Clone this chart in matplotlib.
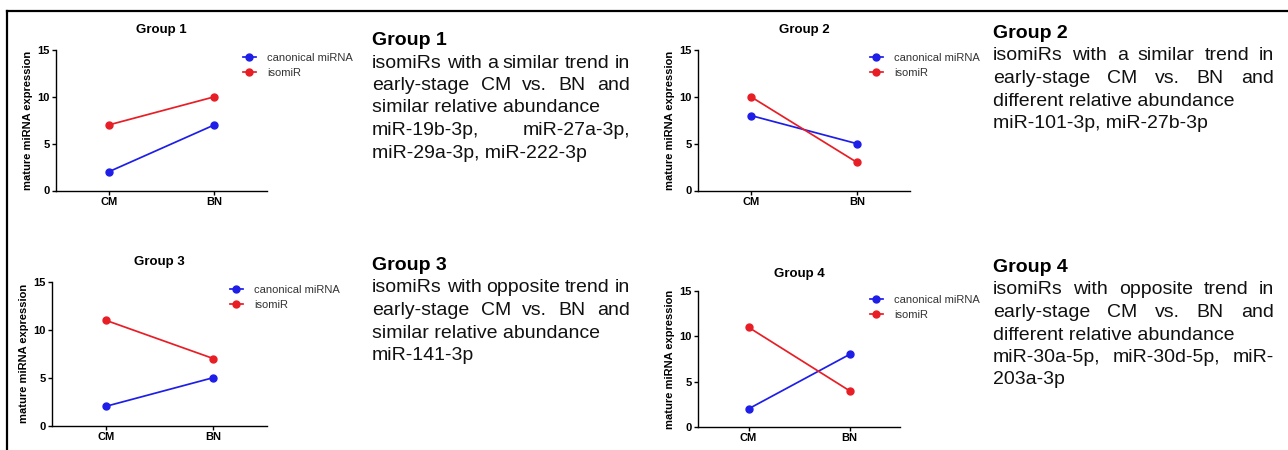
import matplotlib
matplotlib.use("Agg")
import matplotlib.pyplot as plt
from matplotlib.lines import Line2D

plt.rcParams['font.family'] = ['Liberation Sans', 'DejaVu Sans']

# ---- data ----
categories = ['CM', 'BN']
series_names = ['canonical miRNA', 'isomiR']
group_titles = ['Group 1', 'Group 2', 'Group 3', 'Group 4']
canonical = [[2, 7], [8, 5], [2, 5], [2, 8]]
isomir = [[7, 10], [10, 3], [11, 7], [11, 4]]
y_ticks = [0, 5, 10, 15]
y_label = 'mature miRNA expression'

descriptions = [
    ["isomiRs with a similar trend in", "early-stage CM vs. BN and",
     "similar relative abundance", "miR-19b-3p, miR-27a-3p,",
     "miR-29a-3p, miR-222-3p"],
    ["isomiRs with a similar trend in", "early-stage CM vs. BN and",
     "different relative abundance", "miR-101-3p, miR-27b-3p"],
    ["isomiRs with opposite trend in", "early-stage CM vs. BN and",
     "similar relative abundance", "miR-141-3p"],
    ["isomiRs with opposite trend in", "early-stage CM vs. BN and",
     "different relative abundance", "miR-30a-5p, miR-30d-5p, miR-",
     "203a-3p"],
]
justified = [
    [True, True, False, True, False],
    [True, True, False, False],
    [True, True, False, False],
    [True, True, False, True, False],
]

W, H = 1288, 450
fig = plt.figure(figsize=(W / 100, H / 100), dpi=100)


def fx(x):
    return x / W


def fy(y):
    return 1 - y / H


BLUE = '#1e1ee8'
RED = '#e81e26'

# axes boxes in pixels: left, right, top, bottom
boxes = [(56, 267, 50, 190.5), (698, 910, 50, 190.5),
         (52, 267, 282, 425.5), (698, 900, 291, 427)]
title_pads = [12, 12, 12, 10]
legend_anchor = [(243, 53), (870, 53), (230, 285), (870, 295)]

for i, (l, r, t, b) in enumerate(boxes):
    ax = fig.add_axes([fx(l), fy(b), (r - l) / W, (b - t) / H])
    xs = list(range(len(categories)))
    ax.plot(xs, canonical[i], color=BLUE, lw=1.25, marker='o', ms=5,
            label=series_names[0])
    ax.plot(xs, isomir[i], color=RED, lw=1.25, marker='o', ms=5,
            label=series_names[1])
    ax.set_xlim(-0.5, 1.5)
    ax.set_ylim(0, 15)
    ax.set_xticks(xs)
    ax.set_xticklabels(categories, fontsize=8, fontweight='bold')
    ax.set_yticks(y_ticks)
    ax.set_yticklabels([str(v) for v in y_ticks], fontsize=8,
                       fontweight='bold')
    ax.tick_params(length=3, width=1, pad=1.5)
    for s in ('top', 'right'):
        ax.spines[s].set_visible(False)
    for s in ('left', 'bottom'):
        ax.spines[s].set_linewidth(1.0)
    ax.set_ylabel(y_label, fontsize=8, fontweight='bold', labelpad=3)
    ax.set_title(group_titles[i], fontsize=9.5, fontweight='bold',
                 pad=title_pads[i])
    lx, ly = legend_anchor[i]
    leg = ax.legend(loc='upper left', bbox_to_anchor=(fx(lx), fy(ly)),
                    bbox_transform=fig.transFigure, frameon=False,
                    fontsize=8, borderpad=0, borderaxespad=0,
                    handlelength=1.15, handletextpad=1.0, labelspacing=0.45)
    for txt in leg.get_texts():
        txt.set_color('#333333')

# ---- description blocks ----
renderer = fig.canvas.get_renderer()
blocks = [(372, 630, 45), (993, 1274, 38), (372, 630, 270), (993, 1274, 272)]
line_step = 22.5
FS = 14


def word_width(word):
    t = fig.text(0, 0, word, fontsize=FS)
    w = t.get_window_extent(renderer).width
    t.remove()
    return w


for i, (x0, x1, yb) in enumerate(blocks):
    fig.text(fx(x0), fy(yb), group_titles[i], fontsize=FS,
             fontweight='bold', va='baseline', ha='left')
    for j, line in enumerate(descriptions[i]):
        y = yb + line_step * (j + 1)
        if justified[i][j]:
            words = line.split(' ')
            widths = [word_width(w) for w in words]
            gap = ((x1 - x0) - sum(widths)) / (len(words) - 1)
            x = x0
            for w, ww in zip(words, widths):
                fig.text(fx(x), fy(y), w, fontsize=FS, va='baseline',
                         ha='left', color='#111111')
                x += ww + gap
        else:
            fig.text(fx(x0), fy(y), line, fontsize=FS, va='baseline',
                     ha='left', color='#111111')

# ---- frame lines ----
fig.add_artist(Line2D([fx(7), 1.0], [fy(11), fy(11)], color='black',
                      lw=1.6, transform=fig.transFigure))
fig.add_artist(Line2D([fx(7), fx(7)], [fy(11), 0.0], color='black',
                      lw=1.6, transform=fig.transFigure))

fig.savefig('out.png', dpi=100)
